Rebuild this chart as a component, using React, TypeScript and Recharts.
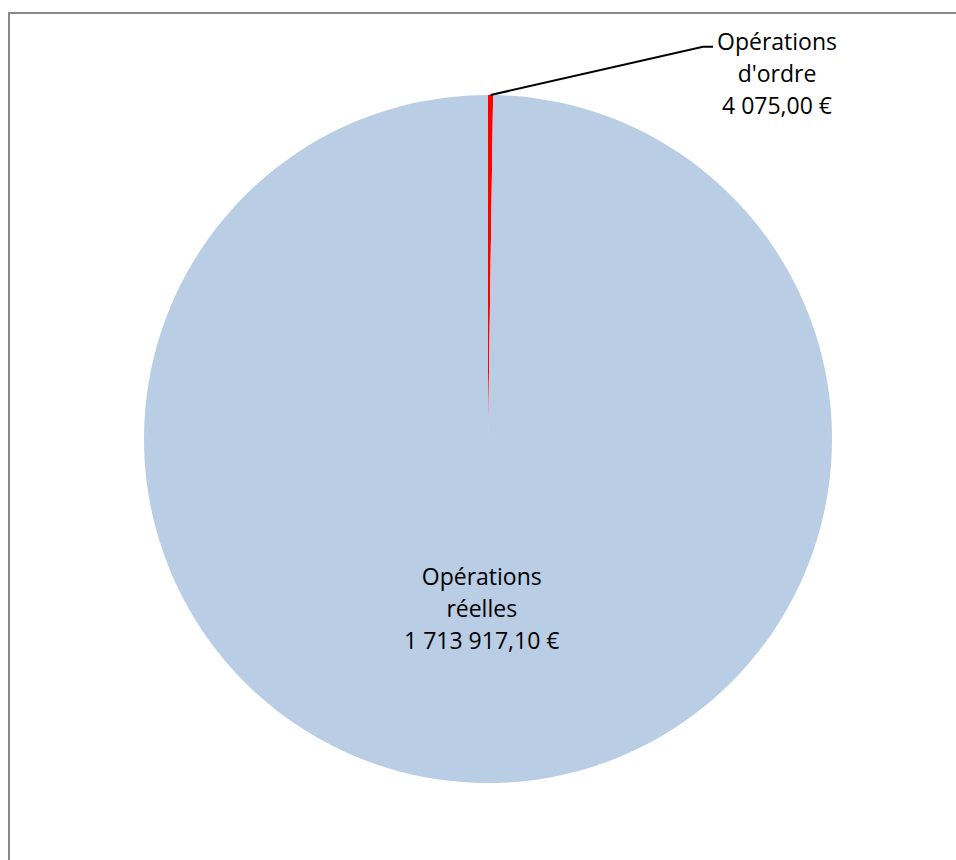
import { PieChart, Pie, Cell } from "recharts";

const names = ["Opérations d'ordre", "Opérations réelles"];
const nameLines = [["Opérations", "d'ordre"], ["Opérations", "réelles"]];
const amounts = [4075.0, 1713917.1];
const valueLabels = ["4 075,00 €", "1 713 917,10 €"];
const colors = ["#FF0000", "#B9CDE5"];

const data = names.map((name, i) => ({ name, value: amounts[i] }));

const FONT = "'Open Sans', sans-serif";
const RAD = Math.PI / 180;

function renderLabel(props: any) {
  const { cx, cy, midAngle, outerRadius, index } = props;
  const lines = [...nameLines[index], valueLabels[index]];
  if (index === 0) {
    // outside label with leader line
    const sx = cx + outerRadius * Math.cos(-midAngle * RAD);
    const sy = cy + outerRadius * Math.sin(-midAngle * RAD);
    const ex = cx + outerRadius * 0.625;
    const ey = cy - outerRadius * 1.14;
    const tx = ex + 74;
    return (
      <g>
        <polyline points={`${sx},${sy} ${ex},${ey} ${ex + 10},${ey}`} fill="none" stroke="#000" strokeWidth={2} />
        {lines.map((l, i) => (
          <text key={i} x={tx} y={ey + 3 + i * 32} textAnchor="middle" fill="#000" fontSize={23} fontFamily={FONT}>
            {l}
          </text>
        ))}
      </g>
    );
  }
  const r = outerRadius * 0.49;
  const x = cx + r * Math.cos(-midAngle * RAD) - 5;
  const y = cy + r * Math.sin(-midAngle * RAD);
  return (
    <g>
      {lines.map((l, i) => (
        <text key={i} x={x} y={y - 23 + i * 32} textAnchor="middle" fill="#000" fontSize={23} fontFamily={FONT}>
          {l}
        </text>
      ))}
    </g>
  );
}

export default function App() {
  return (
    <div style={{ position: "fixed", left: 0, top: 0, width: 956, height: 860, overflow: "hidden", background: "#fff" }}>
      <div
        style={{
          position: "absolute",
          left: 8,
          top: 12,
          width: 1000,
          height: 1000,
          borderTop: "2px solid #888",
          borderLeft: "2px solid #888",
        }}
      />
      <PieChart
        width={956}
        height={860}
        margin={{ top: 0, right: 0, bottom: 0, left: 0 }}
        style={{ position: "absolute", left: 0, top: 0 }}
      >
        <Pie
          data={data}
          dataKey="value"
          nameKey="name"
          cx={488}
          cy={439}
          outerRadius={344}
          startAngle={90}
          endAngle={-270}
          stroke="none"
          label={renderLabel}
          labelLine={false}
          isAnimationActive={false}
        >
          {data.map((d, i) => (
            <Cell key={d.name} fill={colors[i]} />
          ))}
        </Pie>
      </PieChart>
    </div>
  );
}
